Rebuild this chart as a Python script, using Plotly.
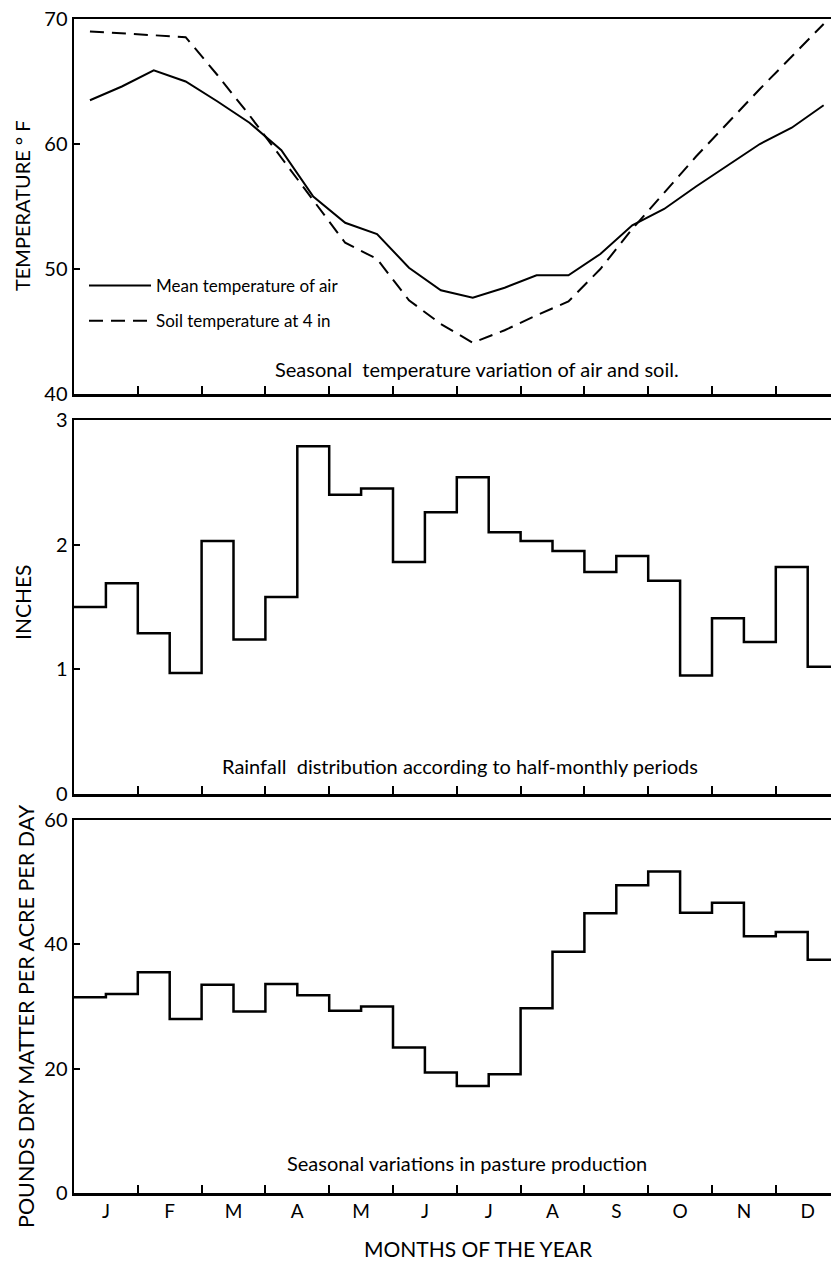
import plotly.graph_objects as go

# ---------------- data ----------------
months = ["J", "F", "M", "A", "M", "J", "J", "A", "S", "O", "N", "D"]

# half-monthly values (24 periods)
air_temp = [63.5, 64.6, 65.9, 65.0, 63.4, 61.7, 59.5, 55.8, 53.7, 52.8, 50.1, 48.3,
            47.7, 48.5, 49.5, 49.5, 51.2, 53.5, 54.8, 56.6, 58.3, 60.0, 61.3, 63.1]
soil_temp = [69.0, 68.85, 68.7, 68.55, 65.5, 62.3, 58.9, 55.5, 52.1, 50.8, 47.5, 45.6,
             44.1, 45.1, 46.3, 47.4, 50.0, 53.2, 56.1, 59.0, 61.7, 64.4, 67.0, 69.6]
rainfall = [1.50, 1.69, 1.29, 0.97, 2.03, 1.24, 1.58, 2.79, 2.40, 2.45, 1.86, 2.26,
            2.54, 2.10, 2.03, 1.95, 1.78, 1.91, 1.71, 0.95, 1.41, 1.22, 1.82, 1.02]
pasture = [31.5, 32.0, 35.5, 28.0, 33.5, 29.2, 33.6, 31.8, 29.3, 30.0, 23.4, 19.4,
           17.2, 19.1, 29.7, 38.8, 45.0, 49.5, 51.7, 45.1, 46.7, 41.3, 42.0, 37.5]

temp_ticks = [40, 50, 60, 70]
rain_ticks = [0, 1, 2, 3]
pasture_ticks = [0, 20, 40, 60]

# ---------------- positions derived from period index ----------------
n = len(air_temp)
x_mid = [(i + 0.5) / 2 for i in range(n)]          # centre of each half-month
x_step = [i / 2 for i in range(n)] + [n / 2]        # start of each half-month + end
rain_step = rainfall + [rainfall[-1]]
pasture_step = pasture + [pasture[-1]]
month_centres = [i + 0.5 for i in range(12)]
month_bounds = list(range(1, 12))

FONT = "Lato"
W, H = 831, 1261
L = 74
XMAX = (W - L) / 63.8

fig = go.Figure()

fig.add_trace(go.Scatter(x=x_mid, y=air_temp, mode="lines", name="Mean temperature of air",
                         line=dict(color="black", width=2), xaxis="x", yaxis="y",
                         legendgroup="a"))
fig.add_trace(go.Scatter(x=x_mid, y=soil_temp, mode="lines", name="Soil temperature at 4 in",
                         line=dict(color="black", width=2, dash="14px,8px"), xaxis="x", yaxis="y",
                         legendgroup="b"))
fig.add_trace(go.Scatter(x=x_step, y=rain_step, mode="lines", line_shape="hv", showlegend=False,
                         line=dict(color="black", width=2.5), xaxis="x2", yaxis="y2"))
fig.add_trace(go.Scatter(x=x_step, y=pasture_step, mode="lines", line_shape="hv", showlegend=False,
                         line=dict(color="black", width=2.5), xaxis="x3", yaxis="y3"))


def dom(top_px, bottom_px):
    return [1 - bottom_px / H, 1 - top_px / H]


xcommon = dict(range=[0, XMAX], showline=True, linecolor="black", linewidth=2.5, mirror=True,
               showgrid=False, zeroline=False, automargin=False, fixedrange=True)
ycommon = dict(showline=True, linecolor="black", linewidth=2.5, mirror=False,
               showgrid=False, zeroline=False, ticks="inside", ticklen=6, tickwidth=2,
               tickcolor="black", automargin=False, fixedrange=True,
               tickfont=dict(family=FONT, size=20, color="black"))

fig.update_layout(
    width=W, height=H,
    margin=dict(l=L, r=0, t=0, b=0),
    plot_bgcolor="white", paper_bgcolor="white",
    font=dict(family=FONT, color="black"),
    xaxis=dict(**xcommon, domain=[0, 1], anchor="y", tickmode="array", tickvals=month_bounds,
               ticks="inside", ticklen=8, tickwidth=2, tickcolor="black", showticklabels=False),
    yaxis=dict(**ycommon, domain=dom(19, 394), anchor="x", range=[40, 70],
               tickmode="array", tickvals=temp_ticks),
    xaxis2=dict(**xcommon, domain=[0, 1], anchor="y2", tickmode="array", tickvals=month_bounds,
                ticks="inside", ticklen=8, tickwidth=2, tickcolor="black", showticklabels=False),
    yaxis2=dict(**ycommon, domain=dom(420, 794), anchor="x2", range=[0, 3],
                tickmode="array", tickvals=rain_ticks),
    xaxis3=dict(**xcommon, domain=[0, 1], anchor="y3", tickmode="array", tickvals=month_centres,
                ticktext=months, ticks="", showticklabels=True,
                tickfont=dict(family=FONT, size=19, color="black"),
                minor=dict(tickvals=month_bounds, ticks="inside", ticklen=8, tickwidth=2,
                           tickcolor="black", showgrid=False)),
    yaxis3=dict(**ycommon, domain=dom(820, 1193), anchor="x3", range=[0, 60],
                tickmode="array", tickvals=pasture_ticks),
    showlegend=True,
    legend=dict(x=(84 - L) / (W - L), y=1 - 268 / H, xanchor="left", yanchor="top",
                bgcolor="rgba(0,0,0,0)", font=dict(family=FONT, size=17, color="black"),
                tracegroupgap=10, itemwidth=62),
)

cap_font = dict(family=FONT, size=20, color="black")
title_font = dict(family=FONT, size=21, color="black")
annotations = [
    dict(text="Seasonal  temperature variation of air and soil.", x=(477 - L) / 63.8, y=42.0,
         xref="x", yref="y", showarrow=False, font=cap_font),
    dict(text="Rainfall  distribution according to half-monthly periods", x=(460 - L) / 63.8,
         y=0.226, xref="x2", yref="y2", showarrow=False, font=cap_font),
    dict(text="Seasonal variations in pasture production", x=(467 - L) / 63.8, y=4.8,
         xref="x3", yref="y3", showarrow=False, font=cap_font),
    dict(text="TEMPERATURE ° F", textangle=-90, x=(22 - L) / (W - L), y=1 - 206 / H,
         xref="paper", yref="paper", showarrow=False, xanchor="center", yanchor="middle",
         font=dict(family=FONT, size=20, color="black")),
    dict(text="INCHES", textangle=-90, x=(22 - L) / (W - L), y=1 - 602 / H,
         xref="paper", yref="paper", showarrow=False, xanchor="center", yanchor="middle",
         font=title_font),
    dict(text="POUNDS DRY MATTER PER ACRE PER DAY", textangle=-90, x=(26 - L) / (W - L),
         y=1 - 1016 / H, xref="paper", yref="paper", showarrow=False, xanchor="center",
         yanchor="middle", font=dict(family=FONT, size=21.5, color="black")),
    dict(text="MONTHS OF THE YEAR", x=(479 - L) / (W - L), y=1 - 1248 / H,
         xref="paper", yref="paper", showarrow=False, xanchor="center", yanchor="middle",
         font=title_font),
]
fig.update_layout(annotations=annotations)

fig.write_html("out.html", config={"displayModeBar": False, "staticPlot": True},
               post_script="document.body.style.margin='0';document.body.style.overflow='hidden';")
